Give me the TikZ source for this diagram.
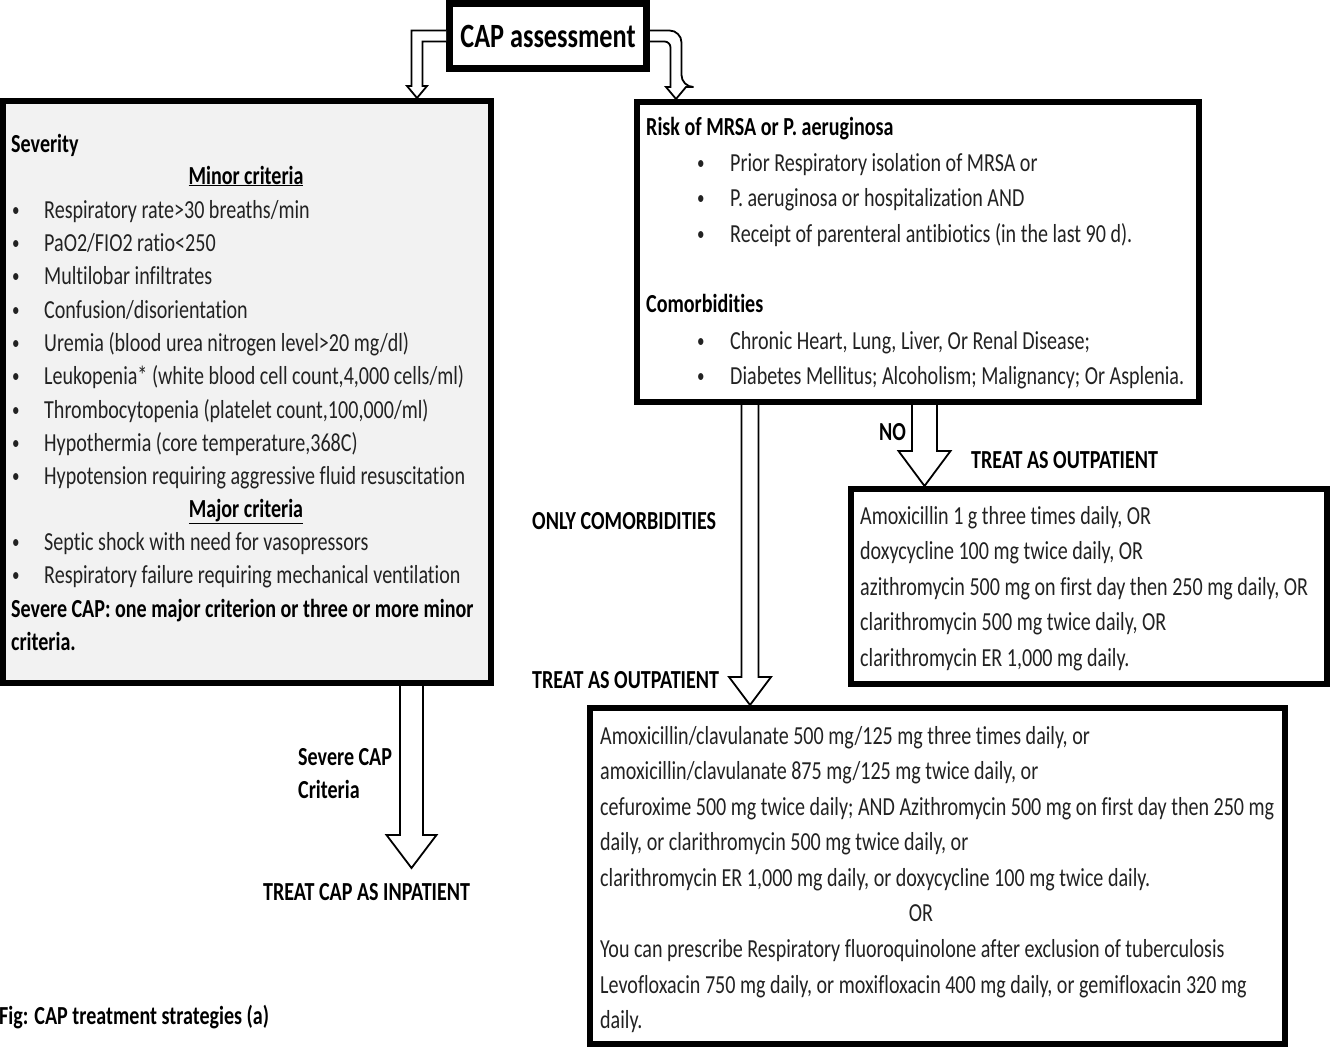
\documentclass[tikz,border=0pt]{standalone}
\usepackage{fontspec}
\setmainfont{Carlito}[FakeStretch=0.772, Ligatures=NoCommon]
\usetikzlibrary{positioning,calc}
\definecolor{boxgrey}{HTML}{F2F2F2}
\definecolor{inkgrey}{HTML}{222222}
\newcommand{\bodysize}{\fontsize{26}{33}\selectfont}
\newcommand{\blt}{\raisebox{1.5pt}{\scalebox{0.75}{\textbullet}}}
% hollow block arrow pointing down: from, to, column, shaft half, head half, head length
\newcommand{\fatdown}[6]{%
  \draw[hollow] let \p1=(#1), \p2=(#2), \p3=(#3) in
    (\x3-#4,\y1) -- (\x3-#4,\y2+#6) -- (\x3-#5,\y2+#6) -- (\x3,\y2)
    -- (\x3+#5,\y2+#6) -- (\x3+#4,\y2+#6) -- (\x3+#4,\y1);}

\begin{document}
\begin{tikzpicture}[x=1pt, y=-1pt,
    every node/.style={inner sep=0pt},
    frame/.style={draw=black, line width=6pt, fill=white},
    txt/.style={anchor=base west, font=\bodysize, text=inkgrey},
    hd/.style={anchor=base west, font=\bodysize\bfseries, text=black},
    hdc/.style={hd, anchor=base},
    hollow/.style={draw=black, line width=1.8pt, fill=white, line join=miter}
  ]
  \useasboundingbox (0,0) rectangle (1330,1049);

  % --- boxes ---------------------------------------------------------------
  \node[frame, line width=7pt, minimum width=197pt, minimum height=65pt,
        font=\fontsize{34}{40}\selectfont\bfseries] (cap) at (548,36) {CAP assessment};
  \node[frame, fill=boxgrey, minimum width=488pt, minimum height=582pt] (sev)  at (247,392) {};
  \node[frame, minimum width=562pt, minimum height=300pt] (risk) at (918,252) {};
  \node[frame, minimum width=476pt, minimum height=195pt] (out1) at (1089,586.5) {};
  \node[frame, minimum width=695pt, minimum height=336pt] (out2) at (937.5,876) {};

  % --- severity box --------------------------------------------------------
  \node[hd] (sevttl) at (11,152) {Severity};
  \node[hdc] (minhd) at (246,184) {\underline{Minor criteria}};
  \foreach \y/\lab [count=\i] in {218/{Respiratory rate>30 breaths/min},
      251/{PaO2/FIO2 ratio<250}, 284/{Multilobar infiltrates},
      318/{Confusion/disorientation},
      351/{Uremia (blood urea nitrogen level>20 mg/dl)},
      384/{Leukopenia* (white blood cell count,4,000 cells/ml)},
      418/{Thrombocytopenia (platelet count,100,000/ml)},
      451/{Hypothermia (core temperature,368C)},
      484/{Hypotension requiring aggressive fluid resuscitation}}
    {\node[txt] (minb\i) at (12,\y) {\blt};
     \node[txt] (mint\i) at (44,\y) {\lab};}
  \node[hdc] (majhd) at (246,517) {\underline{Major criteria}};
  \foreach \y/\lab [count=\i] in {550/{Septic shock with need for vasopressors},
      583/{Respiratory failure requiring mechanical ventilation}}
    {\node[txt] (majb\i) at (12,\y) {\blt};
     \node[txt] (majt\i) at (44,\y) {\lab};}
  \node[hd] (sevdef) at (11,617) {Severe CAP: one major criterion or three or more minor};
  \node[hd] (sevdef2) at (11,650) {criteria.};

  % --- risk box ------------------------------------------------------------
  \node[hd] (riskttl) at (646,135) {Risk of MRSA or P. aeruginosa};
  \foreach \y/\lab [count=\i] in {171/{Prior Respiratory isolation of MRSA or},
      206/{P. aeruginosa or hospitalization AND},
      242/{Receipt of parenteral antibiotics (in the last 90 d).}}
    {\node[txt] (rskb\i) at (697,\y) {\blt};
     \node[txt] (rskt\i) at (730,\y) {\lab};}
  \node[hd] (comttl) at (646,312) {Comorbidities};
  \foreach \y/\lab [count=\i] in {349/{Chronic Heart, Lung, Liver, Or Renal Disease;},
      384/{Diabetes Mellitus; Alcoholism; Malignancy; Or Asplenia.}}
    {\node[txt] (comb\i) at (697,\y) {\blt};
     \node[txt] (comt\i) at (730,\y) {\lab};}

  % --- outpatient regimens -------------------------------------------------
  \foreach \y/\lab [count=\i] in {524/{Amoxicillin 1 g three times daily, OR},
      559/{doxycycline 100 mg twice daily, OR},
      595/{azithromycin 500 mg on first day then 250 mg daily, OR},
      630/{clarithromycin 500 mg twice daily, OR},
      666/{clarithromycin ER 1,000 mg daily.}}
    {\node[txt] (oa\i) at (860,\y) {\lab};}
  \foreach \y/\lab [count=\i] in {744/{Amoxicillin/clavulanate 500 mg/125 mg three times daily, or},
      779/{amoxicillin/clavulanate 875 mg/125 mg twice daily, or},
      815/{cefuroxime 500 mg twice daily; AND Azithromycin 500 mg on first day then 250 mg},
      850/{daily, or clarithromycin 500 mg twice daily, or},
      886/{clarithromycin ER 1,000 mg daily, or doxycycline 100 mg twice daily.},
      957/{You can prescribe Respiratory fluoroquinolone after exclusion of tuberculosis},
      993/{Levofloxacin 750 mg daily, or moxifloxacin 400 mg daily, or gemifloxacin 320 mg},
      1028/{daily.}}
    {\node[txt] (ob\i) at (600,\y) {\lab};}
  \node[txt, anchor=base] (orsep) at (921,921) {OR};

  % --- arrow labels --------------------------------------------------------
  \node[hd] (nolab)   at (879,440) {NO};
  \node[hd] (outlab1) at (971,468) {TREAT AS OUTPATIENT};
  \node[hd] (onlycom) at (532,529) {ONLY COMORBIDITIES};
  \node[hd] (outlab2) at (532,688) {TREAT AS OUTPATIENT};
  \node[hd] (sevlab)  at (298,765) {Severe CAP};
  \node[hd] (sevlab2) at (298,798) {Criteria};
  \node[hd] (inpat)   at (263,900) {TREAT CAP AS INPATIENT};
  \node[hd] (figcap)  at (-1,1024) {Fig: CAP treatment strategies (a)};

  % --- block arrows --------------------------------------------------------
  \coordinate (lcol) at (417,0);
  \coordinate (rcol) at (676,0);
  \coordinate (nocol) at (924.5,0);
  \coordinate (comcol) at (750,0);
  \coordinate (inptip) at (411.5,868);

  \draw[hollow] let \p1=(cap.west), \p2=(sev.north), \p3=(lcol) in
    (\x1,\y1+5.5pt) -- (\x3-5.5pt,\y1+5.5pt) -- (\x3-5.5pt,\y2+12pt) -- (\x3-10pt,\y2+12pt)
    -- (\x3,\y2) -- (\x3+10pt,\y2+12pt) -- (\x3+5.5pt,\y2+12pt) -- (\x3+5.5pt,\y1-5.5pt) -- (\x1,\y1-5.5pt);
  \draw[hollow] let \p1=(cap.east), \p2=(risk.north), \p3=(rcol) in
    (\x1,\y1+5.5pt) [rounded corners=12pt] -- (\x3+5.5pt,\y1+5.5pt) -- (\x3+5.5pt,\y2+12pt) [sharp corners]
    -- (\x3+10pt,\y2+12pt) -- (\x3,\y2) -- (\x3-10pt,\y2+12pt) -- (\x3-5.5pt,\y2+12pt)
    [rounded corners=6pt] -- (\x3-5.5pt,\y1-5.5pt) -- (\x1,\y1-5.5pt);

  \fatdown{risk.south}{out1.north}{nocol}{12.5pt}{26pt}{35pt}
  \fatdown{risk.south}{out2.north}{comcol}{8.5pt}{21pt}{28pt}
  \fatdown{sev.south}{inptip}{inptip}{11.5pt}{25pt}{33pt}

\end{tikzpicture}
\end{document}
